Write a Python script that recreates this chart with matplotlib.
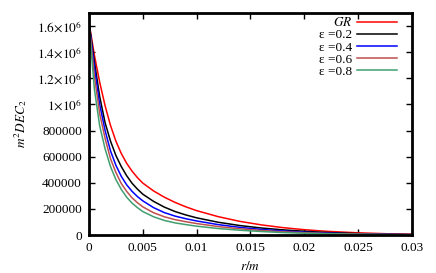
import matplotlib
matplotlib.use('Agg')
import matplotlib.pyplot as plt
from matplotlib.ticker import FuncFormatter, MultipleLocator

plt.rcParams['font.family'] = 'serif'
plt.rcParams['font.serif'] = ['Liberation Serif', 'DejaVu Serif']
plt.rcParams['mathtext.fontset'] = 'stix'
plt.rcParams['font.size'] = 9.5

# r/m sample points
r = [0, 0.0005, 0.001, 0.0015, 0.002, 0.0025, 0.003, 0.0035, 0.004, 0.0045,
     0.005, 0.006, 0.007, 0.008, 0.009, 0.010, 0.012, 0.014, 0.016, 0.018,
     0.020, 0.022, 0.025, 0.028, 0.030]

# m^2 DEC_2 for each model
dec_gr = [1.63e6, 1.38e6, 1.17e6, 0.99e6, 0.84e6, 0.72e6, 0.625e6, 0.55e6, 0.49e6, 0.44e6,
          0.398e6, 0.338e6, 0.29e6, 0.25e6, 0.216e6, 0.187e6, 0.141e6, 0.105e6, 0.078e6, 0.057e6,
          0.041e6, 0.029e6, 0.017e6, 0.009e6, 0.006e6]
dec_02 = [1.63e6, 1.33e6, 1.06e6, 0.86e6, 0.72e6, 0.61e6, 0.525e6, 0.455e6, 0.397e6, 0.352e6,
          0.313e6, 0.258e6, 0.214e6, 0.180e6, 0.154e6, 0.132e6, 0.098e6, 0.073e6, 0.054e6, 0.040e6,
          0.029e6, 0.020e6, 0.011e6, 0.006e6, 0.004e6]
dec_04 = [1.63e6, 1.29e6, 1.00e6, 0.80e6, 0.645e6, 0.535e6, 0.45e6, 0.385e6, 0.335e6, 0.295e6,
          0.262e6, 0.21e6, 0.172e6, 0.145e6, 0.125e6, 0.108e6, 0.080e6, 0.059e6, 0.043e6, 0.031e6,
          0.022e6, 0.015e6, 0.008e6, 0.005e6, 0.003e6]
dec_06 = [1.63e6, 1.22e6, 0.93e6, 0.74e6, 0.585e6, 0.48e6, 0.395e6, 0.335e6, 0.285e6, 0.248e6,
          0.216e6, 0.171e6, 0.14e6, 0.118e6, 0.102e6, 0.088e6, 0.065e6, 0.048e6, 0.035e6, 0.025e6,
          0.018e6, 0.012e6, 0.007e6, 0.004e6, 0.003e6]
dec_08 = [1.63e6, 1.12e6, 0.835e6, 0.66e6, 0.525e6, 0.425e6, 0.35e6, 0.29e6, 0.245e6, 0.21e6,
          0.18e6, 0.14e6, 0.112e6, 0.093e6, 0.080e6, 0.068e6, 0.050e6, 0.037e6, 0.027e6, 0.019e6,
          0.014e6, 0.010e6, 0.006e6, 0.003e6, 0.002e6]

labels = ['$GR$', 'ε =0.2', 'ε =0.4', 'ε =0.6', 'ε =0.8']
colors = ['#ff0000', '#000000', '#0000ff', '#bf4f4f', '#3f9f6f']

fig = plt.figure(figsize=(4.36, 2.73), dpi=100)
ax = fig.add_axes([0.204, 0.139, 0.741, 0.813])

for ys, lab, c in zip([dec_gr, dec_02, dec_04, dec_06, dec_08], labels, colors):
    ax.plot(r, ys, color=c, lw=1.1, label=lab)

ax.set_xlim(0, 0.03)
ax.set_ylim(0, 1.7e6)
ax.xaxis.set_major_locator(MultipleLocator(0.005))
ax.yaxis.set_major_locator(MultipleLocator(200000))


def xfmt(v, pos):
    if abs(v) < 1e-12:
        return '0'
    return ('%.3f' % v).rstrip('0')


def yfmt(v, pos):
    if v >= 1e6 - 1:
        m = v / 1e6
        s = ('%.1f' % m).rstrip('0').rstrip('.')
        return r'$%s{\times}10^{6}$' % s
    return '%d' % round(v)


ax.xaxis.set_major_formatter(FuncFormatter(xfmt))
ax.yaxis.set_major_formatter(FuncFormatter(yfmt))

ax.tick_params(direction='in', top=True, right=True, length=4, width=1, pad=5)
for sp in ax.spines.values():
    sp.set_linewidth(2)

ax.set_xlabel('$r/m$', labelpad=4)
ax.set_ylabel('$m^2DEC_2$', labelpad=6)

ax.legend(loc='upper right', frameon=False, markerfirst=False, handlelength=3.0,
          labelspacing=0.0, handletextpad=0.4, borderaxespad=0.0,
          bbox_to_anchor=(0.97, 1.01))

fig.savefig('out.png', dpi=100)
